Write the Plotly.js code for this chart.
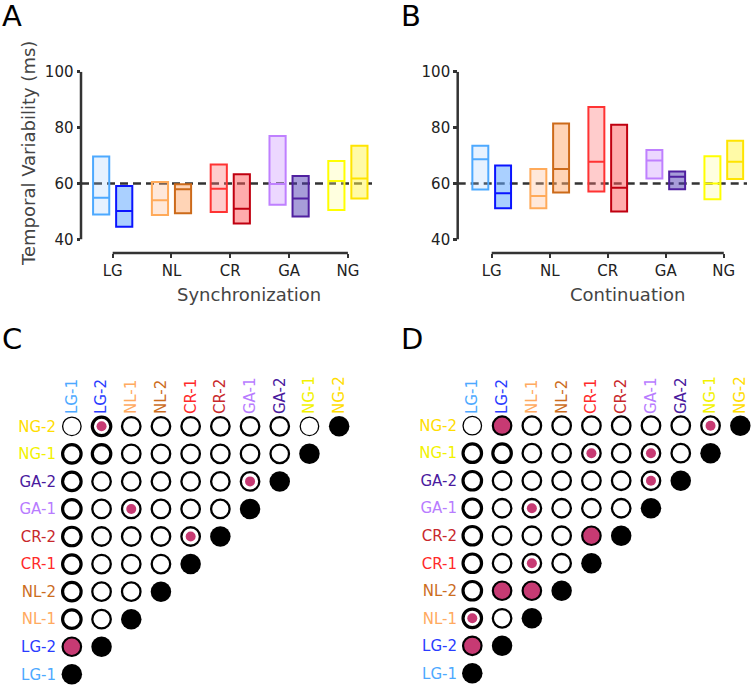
<!DOCTYPE html>
<html>
<head>
<meta charset="utf-8">
<script src="https://cdn.plot.ly/plotly-3.0.1.min.js"></script>
<style>html,body{margin:0;padding:0;background:#fff;}#chart{width:752px;height:687px;}</style>
</head>
<body>
<div id="chart"></div>
<script>
// ---------- DATA ----------
const groups = ['LG', 'NL', 'CR', 'GA', 'NG'];
const conditions = ['LG-1', 'LG-2', 'NL-1', 'NL-2', 'CR-1', 'CR-2', 'GA-1', 'GA-2', 'NG-1', 'NG-2'];
const yTicks = [40, 60, 80, 100];
const referenceLevel = 60;

// Synchronization (panel A): box q1 / median / q3 (ms)
const syncQ1  = [48.9, 44.5, 48.7, 49.3, 49.8, 45.7, 52.4, 48.2, 50.5, 54.6];
const syncMed = [54.9, 50.1, 54.0, 57.9, 58.1, 50.9, 59.8, 54.6, 60.9, 61.8];
const syncQ3  = [69.6, 59.1, 60.5, 59.7, 66.8, 63.3, 77.0, 62.7, 68.0, 73.5];

// Continuation (panel B)
const contQ1  = [57.8, 51.1, 51.1, 56.8, 57.1, 50.0, 61.8, 57.9, 54.3, 61.6];
const contMed = [68.7, 56.5, 55.5, 65.2, 67.8, 58.5, 68.2, 62.4, 60.0, 67.8];
const contQ3  = [73.5, 66.4, 65.2, 81.5, 87.4, 81.0, 72.0, 64.3, 69.7, 75.3];

// Pairwise comparison matrices (lower triangle, rows LG-2..NG-2, cols LG-1..)
// significance: 0 = none, 1 = small dot, 2 = filled
const sigC = [
  [2],
  [0, 0],
  [0, 0, 0],
  [0, 0, 0, 0],
  [0, 0, 0, 0, 1],
  [0, 0, 1, 0, 0, 0],
  [0, 0, 0, 0, 0, 0, 1],
  [0, 0, 0, 0, 0, 0, 0, 0],
  [0, 1, 0, 0, 0, 0, 0, 0, 0]
];
// outline weight level: 1 thin, 2 medium, 3 thick
const wC = [
  [2],
  [3, 2],
  [3, 2, 2],
  [3, 2, 2, 2],
  [3, 2, 2, 2, 2],
  [3, 2, 2, 2, 2, 2],
  [3, 2, 2, 2, 2, 2, 2],
  [3, 3, 2, 2, 2, 2, 2, 2],
  [1, 3, 2, 2, 2, 2, 2, 2, 1]
];
const sigD = [
  [2],
  [1, 0],
  [0, 2, 2],
  [0, 0, 1, 0],
  [0, 0, 0, 0, 2],
  [0, 0, 1, 0, 0, 0],
  [0, 0, 0, 0, 0, 0, 1],
  [0, 0, 0, 0, 1, 0, 1, 0],
  [0, 2, 0, 0, 0, 0, 0, 0, 1]
];
const wD = [
  [2],
  [3, 2],
  [3, 2, 2],
  [3, 2, 2, 2],
  [3, 2, 2, 2, 2],
  [3, 2, 2, 2, 2, 2],
  [3, 2, 2, 2, 2, 2, 2],
  [3, 3, 2, 2, 2, 2, 2, 2],
  [1, 2, 2, 2, 2, 2, 2, 2, 2]
];

// ---------- STYLE ----------
const FONT = 'DejaVu Sans, Verdana, sans-serif';
const edgeColors = ['#4da9ff', '#0a14ff', '#ffaa5a', '#cc6a1a', '#ff3333', '#c00010', '#bf80ff', '#5020a0', '#ffff00', '#ffe400'];
const fillColors = ['rgba(160,205,255,0.25)', 'rgba(100,170,255,0.55)', 'rgba(255,190,150,0.35)', 'rgba(255,170,110,0.5)',
  'rgba(255,120,120,0.38)', 'rgba(255,90,90,0.5)', 'rgba(200,140,255,0.35)', 'rgba(80,60,180,0.5)',
  'rgba(255,255,150,0.3)', 'rgba(255,245,80,0.5)'];
const labelColors = ['#4da9ff', '#2a3cff', '#ffaa60', '#cc6d1e', '#ff2a2a', '#c8282c', '#b87cff', '#4a1a9e', '#f2f200', '#ffdd00'];
const MAGENTA = '#c73a73';
const AXC = '#333333';
const lwMap = {1: 1.3, 2: 2.3, 3: 3.2};

const traces = [];

function addBoxes(q1, med, q3, xa, ya) {
  for (let i = 0; i < conditions.length; i++) {
    const g = Math.floor(i / 2);
    const off = (i % 2 === 0) ? -0.196 : 0.196;
    traces.push({
      type: 'box', xaxis: xa, yaxis: ya,
      x: [g + off], q1: [q1[i]], median: [med[i]], q3: [q3[i]],
      lowerfence: [q1[i]], upperfence: [q3[i]],
      width: 0.275, whiskerwidth: 0,
      line: {color: edgeColors[i], width: 2},
      fillcolor: fillColors[i], boxpoints: false,
      hoverinfo: 'skip', showlegend: false
    });
  }
}
addBoxes(syncQ1, syncMed, syncQ3, 'x', 'y');
addBoxes(contQ1, contMed, contQ3, 'x2', 'y2');

function addMatrix(sig, w, xa, ya) {
  const ox = [], oy = [], ocol = [], olw = [];
  const dx = [], dy = [];
  for (let r = 1; r < conditions.length; r++) {
    for (let c = 0; c < r; c++) {
      const s = sig[r - 1][c];
      ox.push(c); oy.push(r);
      ocol.push(s === 2 ? MAGENTA : '#ffffff');
      olw.push(s === 2 ? 2.2 : lwMap[w[r - 1][c]]);
      if (s === 1) { dx.push(c); dy.push(r); }
    }
  }
  traces.push({type: 'scatter', mode: 'markers', xaxis: xa, yaxis: ya, x: ox, y: oy, cliponaxis: false,
    marker: {symbol: 'circle', size: 18.5, color: ocol, line: {color: '#000', width: olw}},
    hoverinfo: 'skip', showlegend: false});
  traces.push({type: 'scatter', mode: 'markers', xaxis: xa, yaxis: ya, x: dx, y: dy, cliponaxis: false,
    marker: {symbol: 'circle', size: 10, color: MAGENTA, line: {width: 0}},
    hoverinfo: 'skip', showlegend: false});
  const diag = conditions.map((_, i) => i);
  traces.push({type: 'scatter', mode: 'markers', xaxis: xa, yaxis: ya, x: diag, y: diag, cliponaxis: false,
    marker: {symbol: 'circle', size: 20.5, color: '#000', line: {width: 0}},
    hoverinfo: 'skip', showlegend: false});
}
addMatrix(sigC, wC, 'x3', 'y3');
addMatrix(sigD, wD, 'x4', 'y4');

// ---------- LAYOUT ----------
const H = 687, W = 752;
const px = v => v / W;
const py = v => 1 - v / H;

function boxX(dom, rng) {
  return {domain: dom, range: rng, tickmode: 'array', tickvals: groups.map((_, i) => i), ticktext: groups,
    ticks: 'outside', ticklen: 4, tickwidth: 2, tickcolor: AXC, showgrid: false, zeroline: false, showline: false,
    tickfont: {family: FONT, size: 15, color: '#222'}, fixedrange: true};
}
function boxY(anchor) {
  return {domain: [py(253), py(71.7)], range: [35.1, 100], anchor: anchor, tickmode: 'array', tickvals: yTicks,
    ticks: 'outside', ticklen: 3.5, tickwidth: 2.5, tickcolor: AXC, showgrid: false, zeroline: false, showline: false,
    tickfont: {family: FONT, size: 15, color: '#222'}, fixedrange: true};
}
const coloredLabels = conditions.map((n, i) => '<span style="color:' + labelColors[i] + '">' + n + '</span>');
function matX(dom, rng, anchor) {
  return {domain: dom, range: rng, anchor: anchor, side: 'top', tickmode: 'array', tickvals: conditions.map((_, i) => i),
    ticktext: coloredLabels, tickangle: -90, ticks: '', showgrid: false, zeroline: false, showline: false,
    tickfont: {family: FONT, size: 15}, fixedrange: true};
}
function matY(dom, rng, anchor) {
  return {domain: dom, range: rng, anchor: anchor, tickmode: 'array', tickvals: conditions.map((_, i) => i),
    ticktext: coloredLabels, ticks: '', showgrid: false, zeroline: false, showline: false,
    tickfont: {family: FONT, size: 15}, fixedrange: true};
}

const shapes = [];
[['x', 'y'], ['x2', 'y2']].forEach(([xa, ya]) => {
  shapes.push({type: 'line', layer: 'below', xref: xa + ' domain', yref: ya, x0: 0, x1: 1, y0: referenceLevel, y1: referenceLevel,
    line: {color: AXC, width: 2.5, dash: '8px,5px'}});
  shapes.push({type: 'line', xref: xa + ' domain', yref: ya, x0: 0, x1: 0, y0: yTicks[0], y1: yTicks[yTicks.length - 1],
    line: {color: AXC, width: 2.5}});
  shapes.push({type: 'line', xref: xa, yref: ya + ' domain', x0: 0, x1: groups.length - 1, y0: 0, y1: 0,
    line: {color: AXC, width: 2.5}});
});

const annotations = [];
function ann(text, x, y, opts) {
  annotations.push(Object.assign({xref: 'paper', yref: 'paper', x: px(x), y: py(y), text: text, showarrow: false,
    font: {family: FONT, size: 18, color: '#444'}}, opts || {}));
}
ann('A', 0, 16, {xanchor: 'left', yanchor: 'middle', font: {family: FONT, size: 29, color: '#000'}});
ann('B', 399, 16, {xanchor: 'left', yanchor: 'middle', font: {family: FONT, size: 29, color: '#000'}});
ann('C', 0, 339, {xanchor: 'left', yanchor: 'middle', font: {family: FONT, size: 29, color: '#000'}});
ann('D', 399, 339, {xanchor: 'left', yanchor: 'middle', font: {family: FONT, size: 29, color: '#000'}});
ann('Temporal Variability (ms)', 28, 154, {textangle: -90, xanchor: 'center', yanchor: 'middle'});
ann('Synchronization', 249, 295, {xanchor: 'center', yanchor: 'middle'});
ann('Continuation', 627, 295, {xanchor: 'center', yanchor: 'middle'});

const layout = {
  width: W, height: H, margin: {l: 0, r: 0, t: 0, b: 0}, paper_bgcolor: '#fff', plot_bgcolor: 'rgba(0,0,0,0)',
  showlegend: false, font: {family: FONT}, boxmode: 'overlay',
  xaxis: Object.assign(boxX([px(81), px(372)], [-0.539, 4.41]), {anchor: 'y'}),
  yaxis: boxY('x'),
  xaxis2: Object.assign(boxX([px(457.7), px(747)], [-0.586, 4.40]), {anchor: 'y2'}),
  yaxis2: boxY('x2'),
  xaxis3: matX([px(57), px(354)], [-0.5, 9.5], 'y3'),
  yaxis3: matY([py(685), py(415)], [-0.388, 9.41], 'x3'),
  xaxis4: matX([px(458), px(750)], [-0.48, 9.325], 'y4'),
  yaxis4: matY([py(685), py(415)], [-0.425, 9.389], 'x4'),
  shapes: shapes, annotations: annotations
};

Plotly.newPlot('chart', traces, layout, {staticPlot: true, displayModeBar: false});
</script>
</body>
</html>
